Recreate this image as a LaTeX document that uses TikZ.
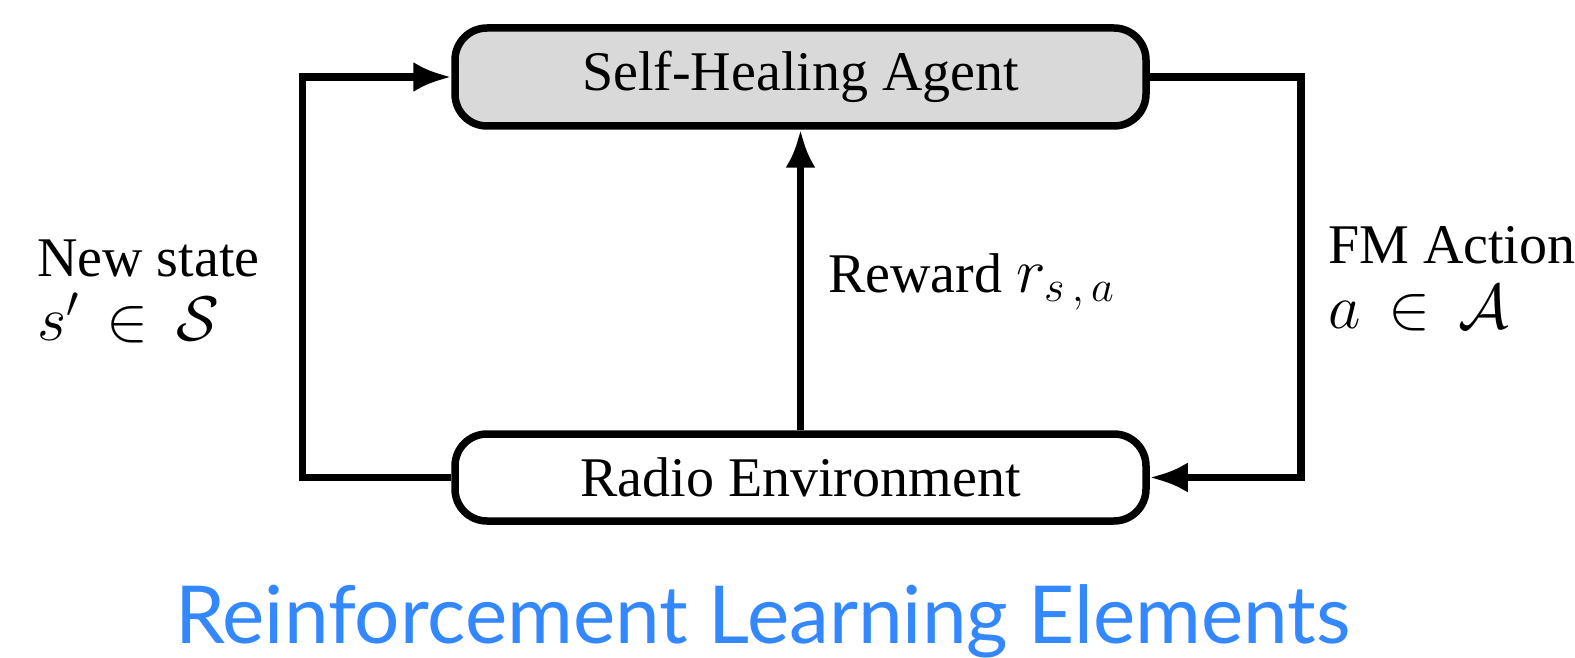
\RequirePackage{fix-cm}
\documentclass[tikz,border=0pt]{standalone}
\usepackage{fontspec}
\setmainfont{Liberation Serif}
\newfontfamily\titlefont{Lato}
\usetikzlibrary{arrows.meta}
\definecolor{agentgray}{HTML}{D9D9D9}
\definecolor{titleblue}{HTML}{3388FF}
\newcommand{\bigmath}[1]{{\fontsize{63}{66}\selectfont$#1$}}
\begin{document}
\begin{tikzpicture}[x=1pt,y=-1pt,
  box/.style={draw=black, line width=7.5pt, rounded corners=32pt, minimum width=691pt, inner sep=0pt, font=\fontsize{56}{60}\selectfont},
  conn/.style={draw=black, line width=7.5pt, -{Latex[length=38pt,width=30pt]}},
  lbl/.style={anchor=base west, inner sep=0pt, font=\fontsize{56}{60}\selectfont}]
\useasboundingbox (0,0) rectangle (1575,658);
\node[box, fill=agentgray, minimum height=98pt] (agent) at (800.5,77) {Self-Healing Agent};
\node[box, fill=white, minimum height=87pt] (env) at (800.5,477.5) {Radio Environment};
\draw[conn] (env.west) -- ++(-149,0) |- (agent.west);
\draw[conn] (agent.east) -- ++(151,0) |- (env.east);
\draw[conn] (env.north) -- (agent.south);
\node[lbl] (ns) at (37,276) {New state};
\node[lbl] (ns2) at (37,340) {\bigmath{s'\mkern3mu\in\mkern3mu\mathcal{S}}};
\node[lbl] (rw) at (828,292) {Reward \bigmath{r_{s\,,\,a}}};
\node[lbl] (fm) at (1328,263) {FM Action};
\node[lbl] (fm2) at (1328,328) {\bigmath{a\mkern3mu\in\mkern3mu\mathcal{A}}};
\node[anchor=base, inner sep=0pt, font=\titlefont\fontsize{80}{80}\selectfont, text=titleblue] (title) at (763,643) {Reinforcement Learning Elements};
\end{tikzpicture}
\end{document}
